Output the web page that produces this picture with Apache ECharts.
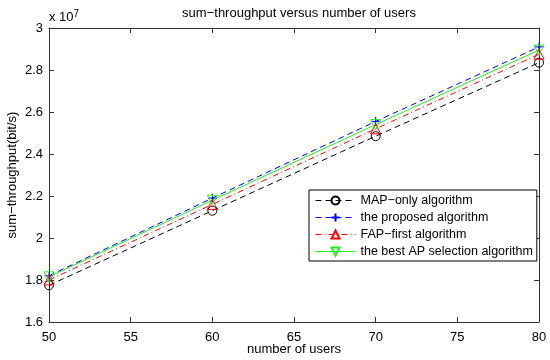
<!DOCTYPE html>
<html>
<head>
<meta charset="utf-8">
<script src="https://cdn.jsdelivr.net/npm/echarts@6/dist/echarts.min.js"></script>
<style>html,body{margin:0;padding:0;background:#fff}#c{width:550px;height:360px}</style>
</head>
<body>
<div id="c"></div>
<script>
var users = [50, 60, 70, 80];
var mapOnly = [1.775, 2.13, 2.485, 2.835];
var proposed = [1.82, 2.19, 2.555, 2.91];
var fapFirst = [1.80, 2.16, 2.52, 2.875];
var bestAP = [1.815, 2.18, 2.54, 2.895];
var xTicks = [50, 55, 60, 65, 70, 75, 80];
var yTicks = [1.6, 1.8, 2, 2.2, 2.4, 2.6, 2.8, 3];
var names = ['MAP\u2212only algorithm', 'the proposed algorithm', 'FAP\u2212first algorithm', 'the best AP selection algorithm'];

var FONT = 'Liberation Sans, Arial, Helvetica, sans-serif';
var FS = 13;
var plusPath = 'path://M10,0 L10,20 M0,10 L20,10';
var downTri = 'path://M0,0 L20,0 L10,17 Z';

function pts(arr){ return users.map(function(u,i){ return [u, arr[i]]; }); }

function mk(name, data, color, dash, symbol, size){
  return {
    name: name, type: 'line', data: pts(data),
    symbol: symbol, symbolSize: size, showSymbol: true,
    lineStyle: {color: color, width: 1, type: dash},
    itemStyle: {color: 'rgba(0,0,0,0)', borderColor: color, borderWidth: 1},
    emphasis: {disabled: true}, animation: false, z: 3
  };
}

var chart = echarts.init(document.getElementById('c'), null, {renderer: 'canvas'});
var axisLine = {show: true, lineStyle: {color: '#333', width: 1}};
chart.setOption({
  backgroundColor: '#fff',
  animation: false,
  title: {
    text: 'sum\u2212throughput versus number of users',
    left: 294, top: 2, textAlign: 'center',
    textStyle: {fontFamily: FONT, fontSize: FS, fontWeight: 'normal', color: '#000'}
  },
  graphic: [{
    type: 'text', left: 49, top: 9,
    style: {
      text: 'x 10{s|7}',
      rich: {s: {fontSize: 10, verticalAlign: 'top', fontFamily: FONT, fill: '#000', padding: [0,0,7,0]}},
      fontFamily: FONT, fontSize: FS, fill: '#000'
    }
  }],
  grid: {left: 49, right: 11, top: 28, bottom: 38, containLabel: false, outerBoundsMode: 'none'},
  legend: {
    orient: 'vertical', left: 309, top: 190,
    padding: [4, 4, 3, 6],
    itemGap: 4, itemWidth: 40, itemHeight: 10,
    lineStyle: {width: 1},
    backgroundColor: '#fff', borderColor: '#000', borderWidth: 1,
    textStyle: {fontFamily: FONT, fontSize: 12.5, color: '#000'},
    data: names
  },
  xAxis: [{
    type: 'value', min: 50, max: 80, interval: 5,
    name: 'number of users', nameLocation: 'middle', nameGap: 21, nameMoveOverlap: false,
    nameTextStyle: {fontFamily: FONT, fontSize: FS, color: '#000'},
    axisLine: axisLine,
    axisTick: {show: true, inside: true, length: 5, lineStyle: {color: '#333'}},
    axisLabel: {fontFamily: FONT, fontSize: FS, color: '#000', margin: 9},
    splitLine: {show: false}
  }, {
    type: 'value', min: 50, max: 80, interval: 5, position: 'top',
    axisLine: axisLine,
    axisTick: {show: true, inside: true, length: 5, lineStyle: {color: '#333'}},
    axisLabel: {show: false}, splitLine: {show: false}
  }],
  yAxis: [{
    type: 'value', min: 1.6, max: 3, interval: 0.2,
    name: 'sum\u2212throughput(bit/s)', nameLocation: 'middle', nameGap: 30, nameMoveOverlap: false,
    nameTextStyle: {fontFamily: FONT, fontSize: FS, color: '#000'},
    axisLine: axisLine,
    axisTick: {show: true, inside: true, length: 5, lineStyle: {color: '#333'}},
    axisLabel: {fontFamily: FONT, fontSize: FS, color: '#000', margin: 6,
      formatter: function(v){ return String(Math.round(v*10)/10); }},
    splitLine: {show: false}
  }, {
    type: 'value', min: 1.6, max: 3, interval: 0.2, position: 'right',
    axisLine: axisLine,
    axisTick: {show: true, inside: true, length: 5, lineStyle: {color: '#333'}},
    axisLabel: {show: false}, splitLine: {show: false}
  }],
  series: [
    mk(names[0], mapOnly, '#000000', [6,4], 'circle', 9),
    mk(names[1], proposed, '#0000ff', [6,4], plusPath, 9),
    mk(names[2], fapFirst, '#ff0000', [6,3,1,3], 'triangle', 10),
    mk(names[3], bestAP, '#22ee22', 'solid', downTri, 10)
  ]
});
</script>
</body>
</html>
